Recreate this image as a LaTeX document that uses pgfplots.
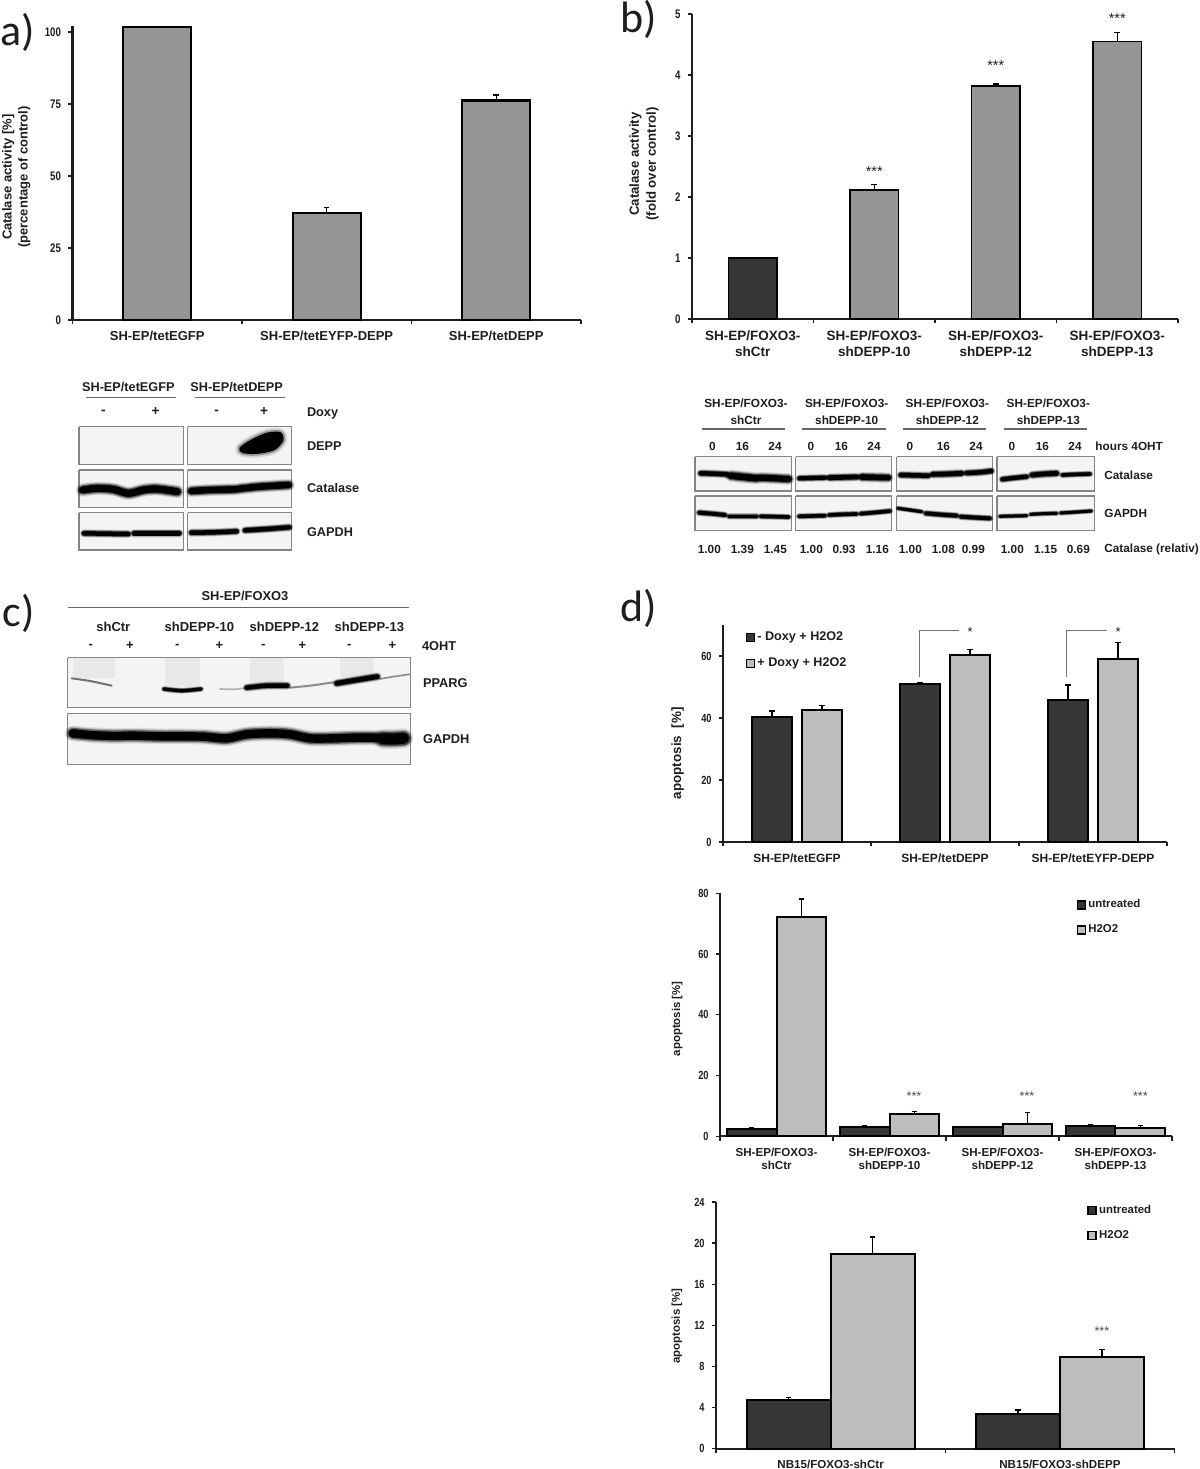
\documentclass[border=0pt]{standalone}
\usepackage{fontspec}
\setmainfont{Liberation Sans}
\newfontfamily\ticksf[FakeStretch=0.78]{Liberation Sans}
\newfontfamily\letterf{Carlito}
\usepackage{pgfplots}
\pgfplotsset{compat=1.18}

\definecolor{bargray}{HTML}{959595}
\definecolor{bardark}{HTML}{363636}
\definecolor{barlight}{HTML}{BDBDBD}
\definecolor{inkc}{HTML}{1E1E1E}
\definecolor{framec}{HTML}{858585}
\definecolor{blotbg}{HTML}{F4F4F4}

\newcommand{\lab}[2]{\fontsize{#1}{#2}\selectfont\bfseries}
\newcommand{\tickf}[1]{\ticksf\bfseries\fontsize{#1}{#1}\selectfont}

\pgfplotsset{
  panel/.style={
    scale only axis, clip=false, anchor=south west,
    axis x line=bottom, axis y line=left,
    axis line style={-, line width=#1, inkc},
    tick align=outside, xtick pos=lower, ytick pos=left,
    major tick length=2.2pt, minor tick length=2.2pt,
    every tick/.style={inkc, line width=0.7pt},
    major x tick style={draw=none},
    xticklabel style={align=center, text=inkc},
    yticklabel style={text=inkc, /pgf/number format/assume math mode=true},
    ylabel style={align=center, text=inkc, anchor=center},
    legend cell align=left,
    legend image code/.code={\draw[##1, line width=0.7pt] (0,-2pt) rectangle (4pt,2pt);},
  },
  hidden/.style={
    hide axis, scale only axis, clip=false, anchor=center, y dir=reverse,
  },
  errs/.style={
    error bars/.cd, y dir=plus, y explicit,
    error bar style={line width=0.65pt, black},
    error mark options={black, rotate=90, mark size=1.4pt, line width=0.65pt},
  },
}

\newcommand{\band}[2]{%
  \addplot[smooth, no marks, line cap=round, black, opacity=.1, line width={#1*0.28pt}] coordinates {#2};
  \addplot[smooth, no marks, line cap=round, black, opacity=.2, line width={#1*0.24pt}] coordinates {#2};
  \addplot[smooth, no marks, line cap=round, black, opacity=.45, line width={#1*0.2pt}] coordinates {#2};
  \addplot[smooth, no marks, line cap=round, black, line width={#1*0.15pt}] coordinates {#2};
}
\newcommand{\faint}[3]{%
  \addplot[smooth, no marks, line cap=round, black!#3, line width={#1*0.167pt}] coordinates {#2};
}
\newcommand{\frm}[4]{%
  \addplot[draw=framec, fill=blotbg, line width=0.7pt] coordinates {(#1,#3)(#2,#3)(#2,#4)(#1,#4)(#1,#3)};
}
\newcommand{\rul}[3]{%
  \addplot[draw=black!60, line width=0.55pt] coordinates {(#1,#3)(#2,#3)};
}
\newcommand{\smear}[4]{%
  \addplot[draw=none, fill=black!9] coordinates {(#1,#3)(#2,#3)(#2,#4)(#1,#4)(#1,#3)};
}

\begin{document}
\begin{tikzpicture}
\useasboundingbox (0,0) rectangle (600pt,734.5pt);

% panel letters
\node[anchor=base west, inner sep=0pt, font=\letterf\fontsize{22}{26}\selectfont, text=inkc] at (0pt,711.5pt) {a)};
\node[anchor=base west, inner sep=0pt, font=\letterf\fontsize{22}{26}\selectfont, text=inkc] at (310pt,718pt) {b)};
\node[anchor=base west, inner sep=0pt, font=\letterf\fontsize{22}{26}\selectfont, text=inkc] at (1pt,421pt) {c)};
\node[anchor=base west, inner sep=0pt, font=\letterf\fontsize{22}{26}\selectfont, text=inkc] at (310pt,423.5pt) {d)};

% a) catalase activity
\begin{axis}[panel=1.1pt, at={(36.2pt,574.5pt)}, width=254.3pt, height=147pt,
  xmin=-0.5, xmax=2.5, ymin=0, ymax=102.08,
  xtick={0,1,2},
  xticklabels={SH-EP/tetEGFP,SH-EP/tetEYFP-DEPP,SH-EP/tetDEPP},
  minor xtick={-0.5,0.5,1.5,2.5},
  ytick={0,25,50,75,100},
  xticklabel style={font=\lab{6.5}{8}},
  yticklabel style={font=\tickf{6.2}},
  ylabel={Catalase activity [\%]\\(percentage of control)},
  ylabel style={font=\lab{6.5}{8}, at={(axis description cs:-0.1104,0.486)}},
]
\addplot[ybar, bar width=0.402, fill=bargray, draw=black, line width=1.1pt]
  coordinates {(0,101.7)};
\addplot[ybar, bar width=0.402, fill=bargray, draw=black, line width=1.1pt, errs]
  coordinates {(1,37.2) +- (0,1.8) (2,76.2) +- (0,1.9)};
\end{axis}

% b) catalase fold change
\begin{axis}[panel=0.8pt, at={(346pt,575pt)}, width=243pt, height=152.5pt,
  xmin=-0.5, xmax=3.5, ymin=0, ymax=5,
  xtick={0,1,2,3},
  xticklabels={SH-EP/FOXO3-\\shCtr,SH-EP/FOXO3-\\shDEPP-10,SH-EP/FOXO3-\\shDEPP-12,SH-EP/FOXO3-\\shDEPP-13},
  minor xtick={-0.5,0.5,1.5,2.5,3.5},
  ytick={0,1,2,3,4,5},
  xticklabel style={font=\lab{6.75}{8}},
  yticklabel style={font=\tickf{6.2}},
  ylabel={Catalase activity\\(fold over control)},
  ylabel style={font=\lab{6.6}{8.4}, at={(axis description cs:-0.0988,0.508)}},
]
\addplot[ybar, bar width=0.4, fill=bardark, draw=black, line width=0.9pt]
  coordinates {(0,1.0)};
\addplot[ybar, bar width=0.4, fill=bargray, draw=black, line width=0.9pt, errs]
  coordinates {(1,2.12) +- (0,0.08) (2,3.82) +- (0,0.03) (3,4.55) +- (0,0.15)};
\node[font=\fontsize{7.2}{8}\selectfont, text=inkc] at (axis cs:1,2.41) {***};
\node[font=\fontsize{7.2}{8}\selectfont, text=inkc] at (axis cs:2,4.15) {***};
\node[font=\fontsize{7.2}{8}\selectfont, text=inkc] at (axis cs:3,4.93) {***};
\end{axis}

% a) western blot
\begin{axis}[hidden, at={(110pt,502pt)}, width=160pt, height=95pt,
  xmin=0, xmax=960, ymin=0, ymax=570]
\frm{57}{370}{170}{283}
\frm{383}{695}{170}{283}
\frm{57}{370}{300}{412}
\frm{383}{695}{300}{412}
\frm{57}{370}{428}{540}
\frm{383}{695}{428}{540}
\addplot[smooth cycle, black, opacity=.12, line width=5pt]
  coordinates {(542,235)(570,215)(620,192)(660,190)(666,212)(640,238)(590,248)(550,246)};
\addplot[smooth cycle, black, opacity=.3, line width=3pt]
  coordinates {(542,235)(570,215)(620,192)(660,190)(666,212)(640,238)(590,248)(550,246)};
\addplot[smooth cycle, black, fill=black, line width=1.2pt]
  coordinates {(542,235)(570,215)(620,192)(660,190)(666,212)(640,238)(590,248)(550,246)};
\band{24}{(68,360)(110,355)(160,358)(205,370)(250,360)(290,357)(352,365)}
\band{22}{(394,363)(450,360)(525,358)(540,356)(600,350)(686,345)}
\band{15}{(72,490)(140,491)(205,492)}
\band{15}{(222,490)(290,490)(358,490)}
\band{15}{(394,488)(460,487)(530,484)}
\band{15}{(555,481)(620,477)(688,472)}
\rul{78}{348}{83}
\rul{404}{674}{83}
\node[font=\lab{6.35}{8}, text=inkc] at (axis cs:205,52) {SH-EP/tetEGFP};
\node[font=\lab{6.35}{8}, text=inkc] at (axis cs:530,52) {SH-EP/tetDEPP};
\node[font=\lab{6.8}{8}, text=inkc] at (axis cs:130,127) {-};
\node[font=\lab{6.8}{8}, text=inkc] at (axis cs:287,125) {+};
\node[font=\lab{6.8}{8}, text=inkc] at (axis cs:470,127) {-};
\node[font=\lab{6.8}{8}, text=inkc] at (axis cs:612,125) {+};
\node[anchor=west, inner sep=0pt, font=\lab{6.35}{8}, text=inkc] at (axis cs:740,130) {Doxy};
\node[anchor=west, inner sep=0pt, font=\lab{6.35}{8}, text=inkc] at (axis cs:740,227) {DEPP};
\node[anchor=west, inner sep=0pt, font=\lab{6.35}{8}, text=inkc] at (axis cs:740,355) {Catalase};
\node[anchor=west, inner sep=0pt, font=\lab{6.35}{8}, text=inkc] at (axis cs:740,485) {GAPDH};
\end{axis}

% b) western blot
\begin{axis}[hidden, at={(470pt,498.25pt)}, width=260pt, height=87.5pt,
  xmin=0, xmax=1560, ymin=0, ymax=525]
\frm{45}{335}{215}{318}
\frm{347}{635}{215}{318}
\frm{650}{938}{215}{318}
\frm{951}{1243}{215}{318}
\frm{45}{335}{333}{436}
\frm{347}{635}{333}{436}
\frm{650}{938}{333}{436}
\frm{951}{1243}{333}{436}
\band{15}{(62,265)(100,266)(140,268)}
\band{22}{(152,272)(190,276)(230,280)}
\band{21}{(242,278)(285,280)(326,282)}
\band{14}{(358,280)(395,279)(435,278)}
\band{16}{(448,278)(490,277)(530,276)}
\band{19}{(545,276)(585,277)(625,278)}
\band{15}{(662,270)(700,271)(745,272)}
\band{16}{(758,268)(800,267)(845,265)}
\band{15}{(860,264)(900,262)(934,258)}
\band{14}{(967,283)(1000,279)(1040,275)}
\band{16}{(1056,270)(1090,267)(1130,265)}
\band{12}{(1147,270)(1190,268)(1230,267)}
\band{13}{(57,383)(95,386)(135,390)}
\band{12}{(147,394)(190,394)(230,394)}
\band{12}{(242,394)(285,395)(326,396)}
\band{12}{(357,394)(395,393)(435,392)}
\band{12}{(447,390)(490,388)(530,387)}
\band{12}{(542,386)(590,382)(630,378)}
\band{10}{(654,370)(690,375)(725,380)}
\band{13}{(737,385)(785,389)(830,392)}
\band{13}{(842,395)(890,398)(930,400)}
\band{10}{(960,394)(1000,393)(1040,392)}
\band{10}{(1052,388)(1090,386)(1130,385)}
\band{10}{(1142,384)(1190,381)(1234,378)}
\rul{65}{315}{132}
\rul{367}{617}{132}
\rul{669}{919}{132}
\rul{971}{1222}{132}
\node[font=\lab{5.9}{8.2}, text=inkc, align=center] at (axis cs:198,80) {SH-EP/FOXO3-\\shCtr};
\node[font=\lab{5.9}{8.2}, text=inkc, align=center] at (axis cs:500,80) {SH-EP/FOXO3-\\shDEPP-10};
\node[font=\lab{5.9}{8.2}, text=inkc, align=center] at (axis cs:802,80) {SH-EP/FOXO3-\\shDEPP-12};
\node[font=\lab{5.9}{8.2}, text=inkc, align=center] at (axis cs:1105,80) {SH-EP/FOXO3-\\shDEPP-13};
\node[font=\lab{5.9}{8}, text=inkc] at (axis cs:97,185) {0};
\node[font=\lab{5.9}{8}, text=inkc] at (axis cs:187,185) {16};
\node[font=\lab{5.9}{8}, text=inkc] at (axis cs:285,185) {24};
\node[font=\lab{5.9}{8}, text=inkc] at (axis cs:393,185) {0};
\node[font=\lab{5.9}{8}, text=inkc] at (axis cs:484,185) {16};
\node[font=\lab{5.9}{8}, text=inkc] at (axis cs:582,185) {24};
\node[font=\lab{5.9}{8}, text=inkc] at (axis cs:690,185) {0};
\node[font=\lab{5.9}{8}, text=inkc] at (axis cs:790,185) {16};
\node[font=\lab{5.9}{8}, text=inkc] at (axis cs:888,185) {24};
\node[font=\lab{5.9}{8}, text=inkc] at (axis cs:996,185) {0};
\node[font=\lab{5.9}{8}, text=inkc] at (axis cs:1087,185) {16};
\node[font=\lab{5.9}{8}, text=inkc] at (axis cs:1185,185) {24};
\node[anchor=west, inner sep=0pt, font=\lab{5.9}{8}, text=inkc] at (axis cs:1245,185) {hours 4OHT};
\node[anchor=west, inner sep=0pt, font=\lab{5.9}{8}, text=inkc] at (axis cs:1272,270) {Catalase};
\node[anchor=west, inner sep=0pt, font=\lab{5.9}{8}, text=inkc] at (axis cs:1272,384) {GAPDH};
\node[font=\lab{5.9}{8}, text=inkc] at (axis cs:88,492) {1.00};
\node[font=\lab{5.9}{8}, text=inkc] at (axis cs:187,492) {1.39};
\node[font=\lab{5.9}{8}, text=inkc] at (axis cs:286,492) {1.45};
\node[font=\lab{5.9}{8}, text=inkc] at (axis cs:394,492) {1.00};
\node[font=\lab{5.9}{8}, text=inkc] at (axis cs:492,492) {0.93};
\node[font=\lab{5.9}{8}, text=inkc] at (axis cs:592,492) {1.16};
\node[font=\lab{5.9}{8}, text=inkc] at (axis cs:691,492) {1.00};
\node[font=\lab{5.9}{8}, text=inkc] at (axis cs:790,492) {1.08};
\node[font=\lab{5.9}{8}, text=inkc] at (axis cs:880,492) {0.99};
\node[font=\lab{5.9}{8}, text=inkc] at (axis cs:997,492) {1.00};
\node[font=\lab{5.9}{8}, text=inkc] at (axis cs:1097,492) {1.15};
\node[font=\lab{5.9}{8}, text=inkc] at (axis cs:1195,492) {0.69};
\node[anchor=west, inner sep=0pt, font=\lab{5.9}{8}, text=inkc] at (axis cs:1272,492) {Catalase (relativ)};
\end{axis}

% c) western blot
\begin{axis}[hidden, at={(120pt,397pt)}, width=240pt, height=100pt,
  xmin=0, xmax=1440, ymin=0, ymax=600]
\frm{203}{1232}{248}{398}
\frm{203}{1232}{415}{568}
\smear{220}{345}{250}{310}
\smear{495}{600}{250}{335}
\smear{750}{850}{250}{325}
\smear{1020}{1120}{250}{305}
\faint{6}{(215,310)(270,318)(335,332)}{55}
\faint{5}{(660,342)(700,343)(730,340)}{30}
\faint{6}{(870,338)(930,332)(1000,322)}{45}
\faint{5}{(1140,312)(1180,305)(1228,298)}{45}
\band{11}{(492,342)(545,347)(603,342)}
\band{15}{(740,338)(800,332)(862,332)}
\band{16}{(1010,325)(1070,315)(1132,305)}
\band{28}{(218,475)(270,480)(340,483)(400,482)(480,484)(540,484)(610,485)(680,490)(740,478)(810,475)(870,478)(930,490)(1000,490)(1060,488)(1120,488)(1180,492)(1212,490)}
\band{36}{(1150,492)(1180,492)(1210,490)}
\rul{205}{1228}{98}
\node[font=\lab{6.45}{8}, text=inkc] at (axis cs:735,62) {SH-EP/FOXO3};
\node[font=\lab{6.5}{8}, text=inkc] at (axis cs:340,157) {shCtr};
\node[font=\lab{6.5}{8}, text=inkc] at (axis cs:598,157) {shDEPP-10};
\node[font=\lab{6.5}{8}, text=inkc] at (axis cs:853,157) {shDEPP-12};
\node[font=\lab{6.5}{8}, text=inkc] at (axis cs:1108,157) {shDEPP-13};
\node[font=\lab{6.5}{8}, text=inkc] at (axis cs:272,214) {-};
\node[font=\lab{6.5}{8}, text=inkc] at (axis cs:390,212) {+};
\node[font=\lab{6.5}{8}, text=inkc] at (axis cs:532,214) {-};
\node[font=\lab{6.5}{8}, text=inkc] at (axis cs:658,212) {+};
\node[font=\lab{6.5}{8}, text=inkc] at (axis cs:790,214) {-};
\node[font=\lab{6.5}{8}, text=inkc] at (axis cs:907,212) {+};
\node[font=\lab{6.5}{8}, text=inkc] at (axis cs:1048,214) {-};
\node[font=\lab{6.5}{8}, text=inkc] at (axis cs:1177,212) {+};
\node[anchor=west, inner sep=0pt, font=\lab{6.4}{8}, text=inkc] at (axis cs:1265,212) {4OHT};
\node[anchor=west, inner sep=0pt, font=\lab{6.4}{8}, text=inkc] at (axis cs:1268,325) {PPARG};
\node[anchor=west, inner sep=0pt, font=\lab{6.4}{8}, text=inkc] at (axis cs:1268,492) {GAPDH};
\end{axis}

% d) top
\begin{axis}[panel=0.9pt, at={(361.5pt,313.5pt)}, width=222pt, height=108.5pt,
  xmin=-0.5, xmax=2.5, ymin=0, ymax=70,
  xtick={0,1,2},
  xticklabels={SH-EP/tetEGFP,SH-EP/tetDEPP,SH-EP/tetEYFP-DEPP},
  minor xtick={-0.5,0.5,1.5,2.5},
  ytick={0,20,40,60},
  xticklabel style={font=\lab{6}{8}},
  yticklabel style={font=\tickf{5.9}},
  ylabel={apoptosis\ \ [\%]},
  ylabel style={font=\lab{6.7}{8}, at={(axis description cs:-0.102,0.409)}},
  legend style={draw=none, fill=none, at={(axis description cs:0.05,0.983)}, anchor=north west,
    inner sep=0pt, font=\lab{6.3}{8}, row sep=4.9pt, text=inkc, nodes={inner sep=1.2pt}},
]
\addplot[ybar, bar width=0.27, fill=bardark, draw=black, line width=1pt, errs]
  coordinates {(-0.169,40.3) +- (0,2.0) (0.831,50.9) +- (0,0.4) (1.831,45.8) +- (0,4.8)};
\addlegendentry{- Doxy + H2O2}
\addplot[ybar, bar width=0.27, fill=barlight, draw=black, line width=1pt, errs]
  coordinates {(0.169,42.6) +- (0,1.4) (1.169,60.2) +- (0,1.8) (2.169,59.1) +- (0,5.3)};
\addlegendentry{+ Doxy + H2O2}
\addplot[forget plot, draw=black!55, line width=0.5pt] coordinates {(0.827,53.3)(0.827,68.2)(1.097,68.2)};
\addplot[forget plot, draw=black!55, line width=0.5pt] coordinates {(1.824,53.3)(1.824,68.2)(2.095,68.2)};
\node[font=\fontsize{6.5}{8}\selectfont, text=inkc] at (axis cs:1.17,67.6) {*};
\node[font=\fontsize{6.5}{8}\selectfont, text=inkc] at (axis cs:2.17,67.6) {*};
\end{axis}

% d) middle
\begin{axis}[panel=0.9pt, at={(360pt,166.35pt)}, width=226pt, height=121.5pt,
  xmin=-0.5, xmax=3.5, ymin=0, ymax=80,
  xtick={0,1,2,3},
  xticklabels={SH-EP/FOXO3-\\shCtr,SH-EP/FOXO3-\\shDEPP-10,SH-EP/FOXO3-\\shDEPP-12,SH-EP/FOXO3-\\shDEPP-13},
  minor xtick={-0.5,0.5,1.5,2.5,3.5},
  ytick={0,20,40,60,80},
  xticklabel style={font=\lab{5.8}{6.8}},
  yticklabel style={font=\tickf{5.9}},
  ylabel={apoptosis [\%]},
  ylabel style={font=\lab{5.7}{8}, at={(axis description cs:-0.095,0.484)}},
  legend style={draw=none, fill=none, at={(axis description cs:0.788,0.987)}, anchor=north west,
    inner sep=0pt, font=\lab{5.7}{8}, row sep=4.6pt, text=inkc, nodes={inner sep=1.2pt}},
]
\addplot[ybar, bar width=0.44, fill=bardark, draw=black, line width=1pt, errs]
  coordinates {(-0.22,2.5) +- (0,0.3) (0.78,3.1) +- (0,0.3) (1.78,3.0) +- (0,0.3) (2.78,3.5) +- (0,0.4)};
\addlegendentry{untreated}
\addplot[ybar, bar width=0.44, fill=barlight, draw=black, line width=1pt, errs]
  coordinates {(0.22,72.3) +- (0,5.8) (1.22,7.3) +- (0,0.8) (2.22,4.2) +- (0,3.7) (3.22,2.6) +- (0,0.9)};
\addlegendentry{H2O2}
\node[font=\fontsize{6.3}{8}\selectfont, text=black!70] at (axis cs:1.217,13.3) {***};
\node[font=\fontsize{6.3}{8}\selectfont, text=black!70] at (axis cs:2.217,13.3) {***};
\node[font=\fontsize{6.3}{8}\selectfont, text=black!70] at (axis cs:3.22,13.3) {***};
\end{axis}

% d) bottom
\begin{axis}[panel=0.9pt, at={(358pt,10.15pt)}, width=229.3pt, height=123.35pt,
  xmin=-0.5, xmax=1.5, ymin=0, ymax=24,
  xtick={0,1},
  xticklabels={NB15/FOXO3-shCtr,NB15/FOXO3-shDEPP},
  minor xtick={-0.5,0.5,1.5},
  ytick={0,4,8,12,16,20,24},
  xticklabel style={font=\lab{5.8}{7}},
  yticklabel style={font=\tickf{5.9}},
  ylabel={apoptosis [\%]},
  ylabel style={font=\lab{5.7}{8}, at={(axis description cs:-0.085,0.497)}},
  legend style={draw=none, fill=none, at={(axis description cs:0.809,1.0)}, anchor=north west,
    inner sep=0pt, font=\lab{5.7}{8}, row sep=4.6pt, text=inkc, nodes={inner sep=1.2pt}},
]
\addplot[ybar, bar width=0.366, fill=bardark, draw=black, line width=1pt, errs]
  coordinates {(-0.183,4.7) +- (0,0.25) (0.817,3.4) +- (0,0.36)};
\addlegendentry{untreated}
\addplot[ybar, bar width=0.366, fill=barlight, draw=black, line width=1pt, errs]
  coordinates {(0.183,18.97) +- (0,1.63) (1.183,8.92) +- (0,0.75)};
\addlegendentry{H2O2}
\node[font=\fontsize{6.3}{8}\selectfont, text=black!70] at (axis cs:1.183,11.4) {***};
\end{axis}
\end{tikzpicture}
\end{document}
